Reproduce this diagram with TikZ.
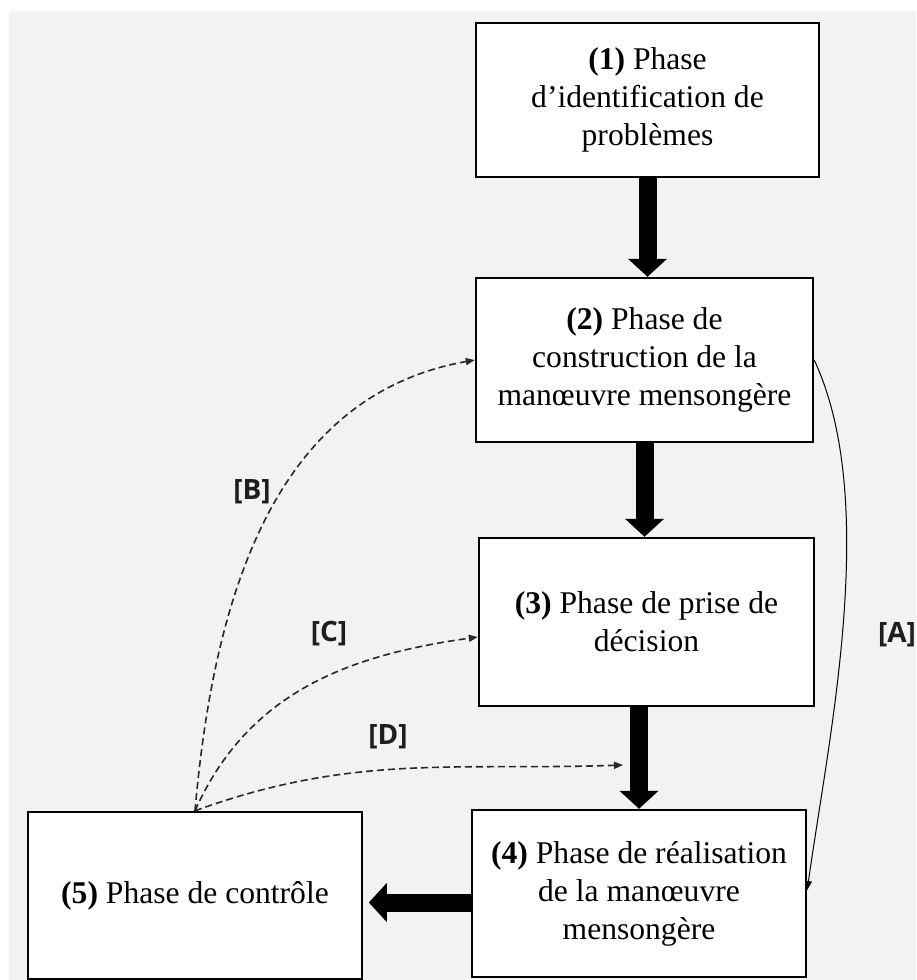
\documentclass[tikz,border=0pt]{standalone}
\usepackage{fontspec}
\setmainfont{Liberation Serif}
\newfontfamily\tagfont{Open Sans}
\usetikzlibrary{arrows.meta}
\definecolor{bggray}{RGB}{242,242,242}
\definecolor{dashgray}{RGB}{40,40,40}
\definecolor{taggray}{RGB}{30,30,30}

\begin{document}
\begin{tikzpicture}[x=0.5pt, y=-0.5pt,
  phase/.style={rectangle, draw=black, line width=1.2pt, fill=white,
    align=center, inner sep=0pt,
    font=\fontsize{15.8}{19}\selectfont},
  bigarr/.style={-{Triangle[width=19pt,length=9pt]}, line width=9pt},
  dasharr/.style={-{Triangle[width=3.5pt,length=4.5pt]},
    dash pattern=on 3.5pt off 2pt, line width=0.8pt, color=dashgray},
  thinarr/.style={-{Triangle[width=3.5pt,length=4.5pt]}, line width=0.5pt},
  tag/.style={font=\tagfont\bfseries\fontsize{14}{16}\selectfont, text=taggray}
]
  % fond
  \fill[white] (0,0) rectangle (916,980);
  \fill[bggray] (9,11) rectangle (916,980);
  \useasboundingbox (0,0) rectangle (916,980);

  \node[phase, minimum width=171.5pt, minimum height=77pt] (ident) at (647.5,100)
    {\textbf{(1)} Phase\\d’identification de\\problèmes};
  \node[phase, minimum width=168.5pt, minimum height=82pt] (constr) at (644.5,360)
    {\textbf{(2)} Phase de\\construction de la\\manœuvre mensongère};
  \node[phase, minimum width=167.5pt, minimum height=84pt] (decis) at (646.5,622)
    {\textbf{(3)} Phase de prise de\\décision};
  \node[phase, minimum width=167pt, minimum height=83.5pt] (realis) at (639,893.5)
    {\textbf{(4)} Phase de réalisation\\de la manœuvre\\mensongère};
  \node[phase, minimum width=167pt, minimum height=83.5pt] (ctrl) at (195,895.5)
    {\textbf{(5)} Phase de contrôle};

  \draw[bigarr] (ident.south) -- (ident.south |- constr.north);
  \draw[bigarr] (constr.south) -- (constr.south |- decis.north);
  \draw[bigarr] (realis.north |- decis.south) -- (realis.north);
  \draw[bigarr] ([yshift=-4.5pt]realis.west) -- ++(-51pt,0);

  % retours
  \coordinate (dend) at (623,765);
  \draw[dasharr] (ctrl.north) to[out=85,in=190] (constr.west);
  \draw[dasharr] (ctrl.north) to[out=66,in=188] ([yshift=-7.5pt]decis.west);
  \draw[dasharr] (ctrl.north) to[out=20,in=182] (dend);
  \draw[thinarr] (constr.east) to[out=-65,in=82,looseness=0.75] ([yshift=1.75pt]realis.east);

  \node[tag] (tagA) at (897,635) {[A]};
  \node[tag] (tagB) at (252,492) {[B]};
  \node[tag] (tagC) at (329,634) {[C]};
  \node[tag] (tagD) at (388,737) {[D]};
\end{tikzpicture}
\end{document}
